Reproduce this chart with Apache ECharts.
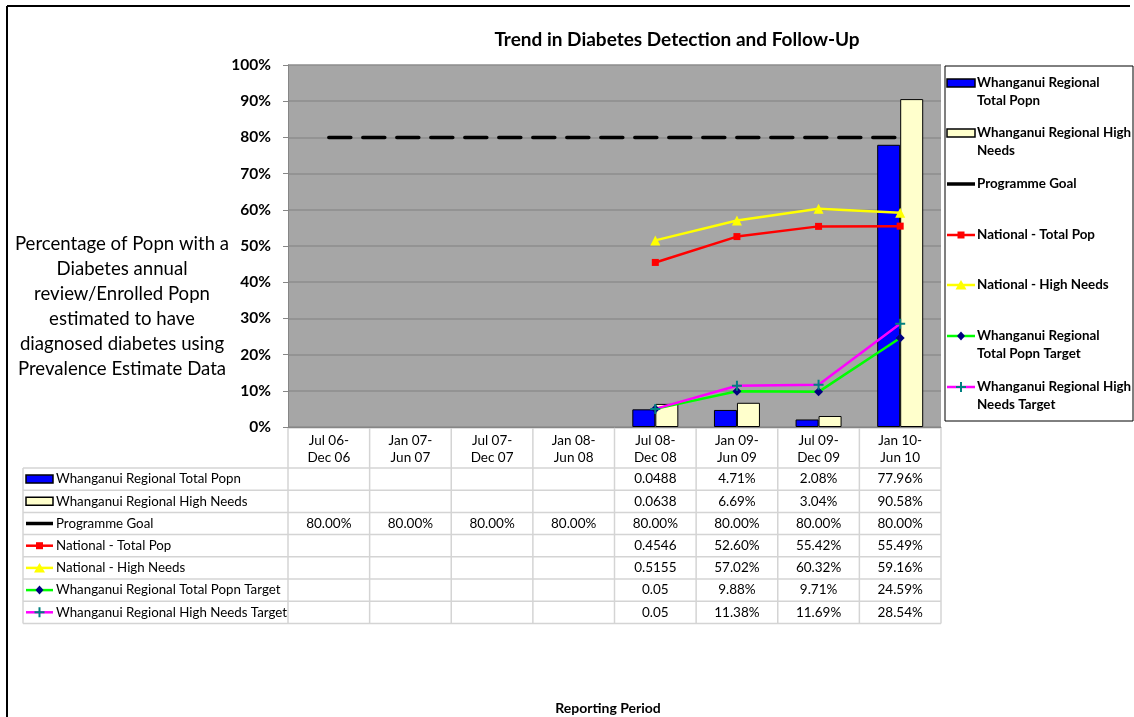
<!DOCTYPE html>
<html>
<head>
<meta charset="utf-8">
<script src="https://cdn.jsdelivr.net/npm/echarts@6/dist/echarts.min.js"></script>
<style>
html,body{margin:0;padding:0;background:#fff;}
#main{width:1134px;height:717px;}
</style>
</head>
<body>
<div id="main"></div>
<script>
// ---- Data ----
const categories = ['Jul 06-\nDec 06','Jan 07-\nJun 07','Jul 07-\nDec 07','Jan 08-\nJun 08','Jul 08-\nDec 08','Jan 09-\nJun 09','Jul 09-\nDec 09','Jan 10-\nJun 10'];
const whanganuiTotal = [null,null,null,null,0.0488,0.0471,0.0208,0.7796];
const whanganuiHigh  = [null,null,null,null,0.0638,0.0669,0.0304,0.9058];
const programmeGoal  = [0.80,0.80,0.80,0.80,0.80,0.80,0.80,0.80];
const nationalTotal  = [null,null,null,null,0.4546,0.5260,0.5542,0.5549];
const nationalHigh   = [null,null,null,null,0.5155,0.5702,0.6032,0.5916];
const targetTotal    = [null,null,null,null,0.05,0.0988,0.0971,0.2459];
const targetHigh     = [null,null,null,null,0.05,0.1138,0.1169,0.2854];
const seriesNames = ['Whanganui Regional Total Popn','Whanganui Regional High Needs','Programme Goal','National - Total Pop','National - High Needs','Whanganui Regional Total Popn Target','Whanganui Regional High Needs Target'];
const legendLabels = ['Whanganui Regional\nTotal Popn','Whanganui Regional High\nNeeds','Programme Goal','National - Total Pop','National - High Needs','Whanganui Regional\nTotal Popn Target','Whanganui Regional High\nNeeds Target'];
const yTickLabels = ['0%','10%','20%','30%','40%','50%','60%','70%','80%','90%','100%'];
const chartTitle = 'Trend in Diabetes Detection and Follow-Up';
const yTitleLines = ['Percentage of Popn with a','Diabetes annual','review/Enrolled Popn','estimated to have','diagnosed diabetes using','Prevalence Estimate Data'];
const xTitle = 'Reporting Period';
// cells shown in the data table as raw decimals (as in the source sheet)
const rawCellColumn = 4;
const rawCellRows = [0,1,3,4,5,6];

const allValues = [whanganuiTotal, whanganuiHigh, programmeGoal, nationalTotal, nationalHigh, targetTotal, targetHigh];

// ---- Styles ----
const FONT = 'Lato, "Open Sans", sans-serif';
const styles = [
  {kind:'bar', color:'#0000ff'},
  {kind:'bar', color:'#ffffcc'},
  {kind:'goal', line:'#000000'},
  {kind:'line', line:'#ff0000', sym:'rect', symColor:'#ff0000', size:7},
  {kind:'line', line:'#ffff00', sym:'triangle', symColor:'#ffff00', size:10},
  {kind:'line', line:'#00ff00', sym:'diamond', symColor:'#000080', size:9},
  {kind:'line', line:'#ff00ff', sym:'plus', symColor:'#008080', size:10}
];
const plusPath = 'path://M4,0 L6,0 L6,4 L10,4 L10,6 L6,6 L6,10 L4,10 L4,6 L0,6 L0,4 L4,4 Z';

const series = allValues.map((vals, i) => {
  const st = styles[i];
  if (st.kind === 'bar') {
    return {name: seriesNames[i], type:'bar', data: vals, barWidth: 23, barGap: '0%',
      itemStyle:{color: st.color, borderColor:'#000', borderWidth:1}, z:2};
  }
  if (st.kind === 'goal') {
    return {name: seriesNames[i], type:'line', data: vals, symbol:'none',
      lineStyle:{color:'#000', width:3.5, type:[22,12], cap:'round'}, z:3};
  }
  return {name: seriesNames[i], type:'line', data: vals,
    symbol: st.sym === 'plus' ? plusPath : st.sym, symbolSize: st.size, showSymbol:true,
    itemStyle:{color: st.symColor}, lineStyle:{color: st.line, width:2.5}, z:4};
});

const chart = echarts.init(document.getElementById('main'));
const option = {
  animation: false,
  backgroundColor: '#ffffff',
  title: {text: chartTitle, left: 672, top: 25, textAlign: 'center',
    textStyle:{fontFamily: FONT, fontSize: 19, fontWeight:'bold', color:'#000'}},
  grid: {left: 288, right: 193, top: 65, bottom: 290, show: true, backgroundColor:'#a6a6a6', borderWidth:0},
  xAxis: {type:'category', data: categories,
    axisLine:{show:true, lineStyle:{color:'#868686'}}, axisTick:{show:false},
    axisLabel:{fontFamily: FONT, fontSize: 13.5, color:'#000', lineHeight: 17, margin: 5, interval: 0}},
  yAxis: {type:'value', min:0, max:1, interval:0.1,
    axisLine:{show:true, lineStyle:{color:'#868686'}},
    axisTick:{show:true, length:5, lineStyle:{color:'#868686'}},
    splitLine:{show:true, lineStyle:{color:'#8c8c8c', width:1.5}},
    axisLabel:{fontFamily: FONT, fontSize: 15.5, fontWeight:'bold', color:'#000', margin: 17,
      formatter: (v) => yTickLabels[Math.round(v*10)]}},
  series: series
};
chart.setOption(option);

// ---- Table, legend and texts built from the data and axis scale ----
const colX = categories.map(c => chart.convertToPixel({xAxisIndex:0}, c));
const colW = colX[1] - colX[0];
const plotLeft = colX[0] - colW/2, plotRight = colX[colX.length-1] + colW/2;
const y0 = chart.convertToPixel({yAxisIndex:0}, 0);
const g = [];
const lineC = '#d4d4d4';
const headerTop = y0 + 1, headerBottom = y0 + 41, rowH = 22.2;
const tableLeft = 23;
const tableBottom = headerBottom + rowH * seriesNames.length;
// vertical lines
for (let k = 0; k <= categories.length; k++) {
  const x = plotLeft + k*colW;
  g.push({type:'line', shape:{x1:x, y1:headerTop, x2:x, y2:tableBottom}, style:{stroke:lineC, lineWidth:1.5}});
}
g.push({type:'line', shape:{x1:tableLeft, y1:headerBottom, x2:tableLeft, y2:tableBottom}, style:{stroke:lineC, lineWidth:1.5}});
// horizontal lines
g.push({type:'line', shape:{x1:plotLeft, y1:headerTop, x2:plotRight, y2:headerTop}, style:{stroke:lineC, lineWidth:1.5}});
for (let r = 0; r <= seriesNames.length; r++) {
  const y = headerBottom + r*rowH;
  g.push({type:'line', shape:{x1:tableLeft, y1:y, x2:plotRight, y2:y}, style:{stroke:lineC, lineWidth:1.5}});
}

function iconShapes(i, x1, x2, cy) {
  const st = styles[i];
  const out = [];
  if (st.kind === 'bar') {
    out.push({type:'rect', shape:{x:x1, y:cy-4, width:x2-x1, height:8}, style:{fill:st.color, stroke:'#000', lineWidth:1.5}});
    return out;
  }
  const lc = st.kind === 'goal' ? '#000' : st.line;
  out.push({type:'line', shape:{x1:x1, y1:cy, x2:x2, y2:cy}, style:{stroke:lc, lineWidth: st.kind==='goal'?3.5:2.5}});
  const cx = (x1+x2)/2;
  if (st.sym === 'rect') out.push({type:'rect', shape:{x:cx-3.5, y:cy-3.5, width:7, height:7}, style:{fill:st.symColor}});
  if (st.sym === 'triangle') out.push({type:'polygon', shape:{points:[[cx,cy-5],[cx+5.5,cy+4.5],[cx-5.5,cy+4.5]]}, style:{fill:st.symColor}});
  if (st.sym === 'diamond') out.push({type:'polygon', shape:{points:[[cx,cy-4.5],[cx+4,cy],[cx,cy+4.5],[cx-4,cy]]}, style:{fill:st.symColor}});
  if (st.sym === 'plus') out.push({type:'polygon', shape:{points:[[cx-1,cy-5],[cx+1,cy-5],[cx+1,cy-1],[cx+5,cy-1],[cx+5,cy+1],[cx+1,cy+1],[cx+1,cy+5],[cx-1,cy+5],[cx-1,cy+1],[cx-5,cy+1],[cx-5,cy-1],[cx-1,cy-1]]}, style:{fill:st.symColor}});
  return out;
}

// table rows
seriesNames.forEach((name, r) => {
  const cy = headerBottom + r*rowH + rowH/2;
  iconShapes(r, 26, 53, cy).forEach(s => g.push(s));
  g.push({type:'text', x: 56, y: cy, style:{text: name, fontFamily: FONT, fontSize: 13.3, fill:'#000', verticalAlign:'middle', align:'left'}});
  allValues[r].forEach((v, c) => {
    if (v === null || v === undefined) return;
    const txt = (c === rawCellColumn && rawCellRows.indexOf(r) >= 0) ? String(v) : (v*100).toFixed(2) + '%';
    g.push({type:'text', x: colX[c], y: cy, style:{text: txt, fontFamily: FONT, fontSize: 13.5, fill:'#000', align:'center', verticalAlign:'middle'}});
  });
});

// legend box
g.push({type:'rect', shape:{x:945, y:66, width:188, height:355}, style:{fill:'#fff', stroke:'#000', lineWidth:1}, z:10});
const legendY = [83, 133, 184, 235, 285, 336, 387];
legendLabels.forEach((lab, i) => {
  iconShapes(i, 947, 975, legendY[i]).forEach(s => { s.z = 11; g.push(s); });
  g.push({type:'text', x: 977, y: legendY[i] - 9, z: 11, style:{text: lab, fontFamily: FONT, fontSize: 13.4, fontWeight:'bold', fill:'#000', lineHeight: 17.5, align:'left', verticalAlign:'top'}});
});

// y-axis title
g.push({type:'text', x: 122, y: 231, style:{text: yTitleLines.join('\n'), fontFamily: FONT, fontSize: 18.6, fill:'#000', lineHeight: 25, align:'center', verticalAlign:'top'}});
// x-axis title
g.push({type:'text', x: 608, y: 708, style:{text: xTitle, fontFamily: FONT, fontSize: 14, fontWeight:'bold', fill:'#000', align:'center', verticalAlign:'middle'}});
// outer frame
g.push({type:'line', shape:{x1:7, y1:6, x2:1130, y2:6}, style:{stroke:'#000', lineWidth:2}});
g.push({type:'line', shape:{x1:7, y1:6, x2:7, y2:717}, style:{stroke:'#000', lineWidth:2}});

chart.setOption({graphic: g});
</script>
</body>
</html>
